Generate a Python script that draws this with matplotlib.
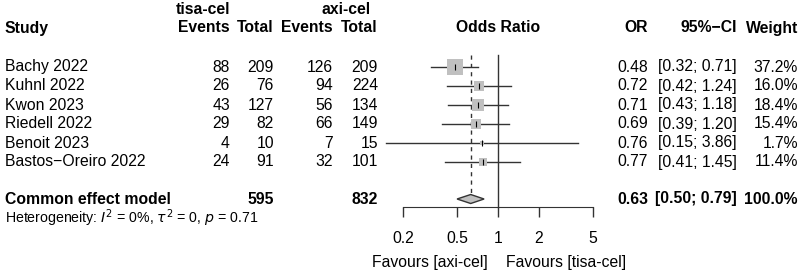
import numpy as np
import matplotlib
matplotlib.use("Agg")
from matplotlib import pyplot as plt
from matplotlib.patches import Polygon

plt.rcParams['font.family'] = ['Liberation Sans', 'DejaVu Sans']

# data
studies = ["Bachy 2022", "Kuhnl 2022", "Kwon 2023", "Riedell 2022", "Benoit 2023", "Bastos\u2212Oreiro 2022"]
tisa_events = [88, 26, 43, 29, 4, 24]
tisa_total = [209, 76, 127, 82, 10, 91]
axi_events = [126, 94, 56, 66, 7, 32]
axi_total = [209, 224, 134, 149, 15, 101]
odds = [0.48, 0.72, 0.71, 0.69, 0.76, 0.77]
ci_low = [0.32, 0.42, 0.43, 0.39, 0.15, 0.41]
ci_high = [0.71, 1.24, 1.18, 1.20, 3.86, 1.45]
weights = [37.2, 16.0, 18.4, 15.4, 1.7, 11.4]
pooled_or, pooled_low, pooled_high = 0.63, 0.50, 0.79
pooled_tisa, pooled_axi = 595, 832
pooled_weight = 100.0
ticks = [0.2, 0.5, 1, 2, 5]

W, H = 803, 274
fig = plt.figure(figsize=(W / 100, H / 100), dpi=100)

# text layer in pixel coords
ax_t = fig.add_axes([0, 0, 1, 1])
ax_t.set_xlim(0, W)
ax_t.set_ylim(H, 0)
ax_t.axis('off')

# forest layer, log scale: 136 px per decade, OR=1 at x=498
x0, x1 = 375, 605
ax_f = fig.add_axes([x0 / W, 0, (x1 - x0) / W, 1])
ax_f.set_xscale('log')
ax_f.set_xlim(10 ** ((x0 - 498) / 136), 10 ** ((x1 - 498) / 136))
ax_f.set_ylim(H, 0)
ax_f.patch.set_alpha(0)

row_y = [67, 86, 105, 124, 143, 162]
pool_y = 199
axis_y = 207
fs = 11.3

# headers
ax_t.text(5, 28, "Study", fontsize=fs, fontweight='bold', va='center')
ax_t.text(203, 10, "tisa-cel", fontsize=fs, fontweight='bold', va='center', ha='center')
ax_t.text(346, 10, "axi-cel", fontsize=fs, fontweight='bold', va='center', ha='center')
for xr, lab in [(230, "Events"), (274, "Total"), (333, "Events"), (378, "Total")]:
    ax_t.text(xr, 28, lab, fontsize=fs, fontweight='bold', va='center', ha='right')
ax_t.text(498, 28, "Odds Ratio", fontsize=fs, fontweight='bold', va='center', ha='center')
ax_t.text(648, 28, "OR", fontsize=fs, fontweight='bold', va='center', ha='right')
ax_t.text(737, 28, "95%\u2212CI", fontsize=fs, fontweight='bold', va='center', ha='right')
ax_t.text(798, 28, "Weight", fontsize=fs, fontweight='bold', va='center', ha='right')

for i, y in enumerate(row_y):
    ax_t.text(5, y, studies[i], fontsize=fs, va='center')
    ax_t.text(230, y, str(tisa_events[i]), fontsize=fs, va='center', ha='right')
    ax_t.text(274, y, str(tisa_total[i]), fontsize=fs, va='center', ha='right')
    ax_t.text(333, y, str(axi_events[i]), fontsize=fs, va='center', ha='right')
    ax_t.text(378, y, str(axi_total[i]), fontsize=fs, va='center', ha='right')
    ax_t.text(648, y, f"{odds[i]:.2f}", fontsize=fs, va='center', ha='right')
    ax_t.text(737, y, f"[{ci_low[i]:.2f}; {ci_high[i]:.2f}]", fontsize=fs, va='center', ha='right')
    ax_t.text(798, y, f"{weights[i]:.1f}%", fontsize=fs, va='center', ha='right')

ax_t.text(5, pool_y, "Common effect model", fontsize=fs, fontweight='bold', va='center')
ax_t.text(274, pool_y, str(pooled_tisa), fontsize=fs, fontweight='bold', va='center', ha='right')
ax_t.text(378, pool_y, str(pooled_axi), fontsize=fs, fontweight='bold', va='center', ha='right')
ax_t.text(648, pool_y, f"{pooled_or:.2f}", fontsize=fs, fontweight='bold', va='center', ha='right')
ax_t.text(737, pool_y, f"[{pooled_low:.2f}; {pooled_high:.2f}]", fontsize=fs, fontweight='bold', va='center', ha='right')
ax_t.text(798, pool_y, f"{pooled_weight:.1f}%", fontsize=fs, fontweight='bold', va='center', ha='right')
ax_t.text(5, 218, r"Heterogeneity: $\mathit{I}^2$ = 0%, $\tau^2$ = 0, $\mathit{p}$ = 0.71",
          fontsize=10.2, va='center')

# forest marks
line_c = '#333333'
ax_f.plot([1, 1], [55, axis_y], color=line_c, lw=1)
ax_f.plot([pooled_or, pooled_or], [55, pool_y - 5], color=line_c, lw=1, ls=(0, (3, 3)))
for i, y in enumerate(row_y):
    ax_f.plot([ci_low[i], ci_high[i]], [y, y], color=line_c, lw=1, zorder=2)
    side = 16 * np.sqrt(weights[i] / max(weights)) * 0.72
    ax_f.scatter([odds[i]], [y], marker='s', s=side ** 2, color='#c0c0c0', lw=0, zorder=3)
    ax_f.scatter([odds[i]], [y], marker='|', s=14, color='black', lw=0.8, zorder=4)
ax_f.add_patch(Polygon([[pooled_low, pool_y], [pooled_or, pool_y - 4.5],
                        [pooled_high, pool_y], [pooled_or, pool_y + 4.5]],
                       closed=True, facecolor='#c0c0c0', edgecolor=line_c, lw=1))

# axis
for s in ['top', 'left', 'right']:
    ax_f.spines[s].set_visible(False)
ax_f.spines['bottom'].set_position(('data', axis_y))
ax_f.spines['bottom'].set_bounds(ticks[0], ticks[-1])
ax_f.spines['bottom'].set_color(line_c)
ax_f.set_xticks(ticks)
ax_f.set_xticklabels([str(t) for t in ticks])
ax_f.minorticks_off()
ax_f.tick_params(axis='x', length=7.2, width=1, color=line_c, labelsize=fs, pad=10)
ax_f.set_yticks([])

ax_t.text(488, 263, "Favours [axi-cel]", fontsize=fs, va='center', ha='right')
ax_t.text(506, 263, "Favours [tisa-cel]", fontsize=fs, va='center', ha='left')

fig.savefig("out.png", dpi=100)
